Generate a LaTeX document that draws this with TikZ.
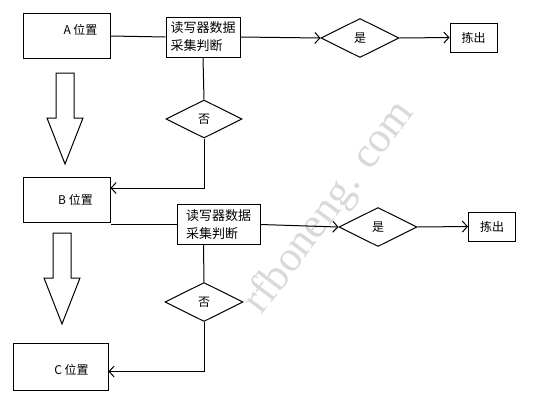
\documentclass[tikz,border=0pt]{standalone}
\usepackage{fontspec}
\setmainfont{Noto Sans CJK SC}
\newfontfamily\markfont{Liberation Serif}
\usetikzlibrary{arrows.meta,shapes.geometric}

\begin{document}
\begin{tikzpicture}[x=1pt,y=-1pt,line width=1pt,
    >={Straight Barb[length=5pt,width=11pt]},
    every node/.style={font=\fontsize{12}{14}\selectfont},
    posbox/.style={draw,minimum height=45pt,inner sep=0pt},
    readbox/.style={draw,align=left,minimum height=40pt,inner sep=2pt,
      font=\fontsize{13}{18}\selectfont},
    choice/.style={draw,diamond,aspect=2,minimum width=78pt,minimum height=39pt,inner sep=0pt},
    outbox/.style={draw,minimum width=47pt,minimum height=29pt,inner sep=0pt}]
  \useasboundingbox (0,0) rectangle (538,400);
  \node[rotate=53,text=black!15,font=\markfont\fontsize{43}{43}\selectfont] (mark) at (330,208) {rfboneng. com};

  \node[posbox,minimum width=87pt,label={[xshift=14pt,yshift=6pt]center:A 位置}] (A) at (66.5,36) {};
  \node[posbox,minimum width=87pt,label={[xshift=9pt]center:B 位置}] (B) at (66.5,200) {};
  \node[posbox,minimum width=95pt,minimum height=47pt,label={[xshift=11pt,yshift=-3pt]center:C 位置}] (C) at (60.5,366.5) {};

  \node[readbox,minimum width=74pt] (read1) at (203,37) {读写器数据\\采集判断};
  \node[choice] (yes1) at (360,38) {是};
  \node[outbox] (out1) at (473.5,37.5) {拣出};
  \node[choice,minimum width=76pt,minimum height=38pt] (no1) at (204,119) {否};

  \node[readbox,minimum width=83pt] (read2) at (218.5,224.5) {读写器数据\\采集判断};
  \node[choice] (yes2) at (378,227) {是};
  \node[outbox] (out2) at (492,226.5) {拣出};
  \node[choice] (no2) at (204,302) {否};

  \draw (A.east) -- (read1.west);
  \draw[->] (read1.east) -- (yes1.west);
  \draw[->] (yes1.east) -- (out1.west);
  \draw (read1.south) -- (no1.north);
  \draw[->] (no1.south) |- ([yshift=12pt]B.east);

  \draw (read2.west) -- (read2.west -| B.east);
  \draw[->] (read2.east) -- (yes2.west);
  \draw[->] (yes2.east) -- (out2.west);
  \draw ([xshift=-15pt]read2.south) -- (no2.north);
  \draw[->] (no2.south) |- ([yshift=-5pt]C.east);

  \foreach \x/\y in {65/73,62/233} {
    \draw (\x-9,\y) -- (\x+9,\y) -- (\x+9,\y+45) -- (\x+18,\y+45) -- (\x,\y+91)
      -- (\x-18,\y+45) -- (\x-9,\y+45) -- cycle;
  }
\end{tikzpicture}
\end{document}
